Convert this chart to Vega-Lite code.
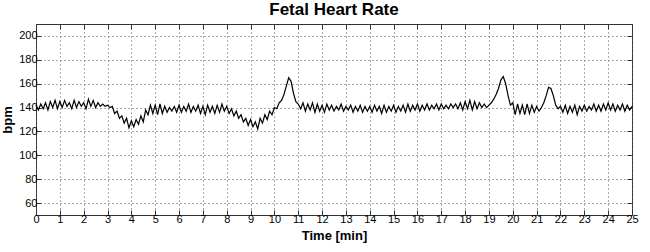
{
  "$schema": "https://vega.github.io/schema/vega-lite/v6.json",
  "width": 596,
  "height": 191,
  "autosize": {"type": "none"},
  "padding": {"left": 36, "top": 24, "right": 18, "bottom": 37},
  "background": "white",
  "title": {"text": "Fetal Heart Rate", "font": "Liberation Sans", "fontSize": 17, "fontWeight": "bold", "color": "black", "offset": 5},
  "config": {
    "view": {"stroke": "#333333", "strokeWidth": 1},
    "axis": {
      "labelFont": "Liberation Sans", "labelFontSize": 11, "labelColor": "black",
      "titleFont": "Liberation Sans", "titleFontSize": 13, "titleFontWeight": "bold", "titleColor": "black",
      "tickColor": "#333333", "tickSize": -5, "domain": false,
      "gridColor": "#555555", "gridDash": [1, 3], "gridOpacity": 1, "gridWidth": 1
    }
  },
  "data": {"values": [
{"t":0.0,"v":142},{"t":0.1,"v":138},{"t":0.2,"v":143},{"t":0.3,"v":139},{"t":0.4,"v":144},{"t":0.5,"v":138},{"t":0.6,"v":145},{"t":0.7,"v":140},{"t":0.8,"v":146},{"t":0.9,"v":139},
{"t":1.0,"v":145},{"t":1.1,"v":140},{"t":1.2,"v":146},{"t":1.3,"v":141},{"t":1.4,"v":144},{"t":1.5,"v":139},{"t":1.6,"v":146},{"t":1.7,"v":140},{"t":1.8,"v":145},{"t":1.9,"v":141},
{"t":2.0,"v":144},{"t":2.1,"v":139},{"t":2.2,"v":147},{"t":2.3,"v":141},{"t":2.4,"v":146},{"t":2.5,"v":140},{"t":2.6,"v":144},{"t":2.7,"v":141},{"t":2.8,"v":143},{"t":2.9,"v":141},
{"t":3.0,"v":142},{"t":3.1,"v":140},{"t":3.2,"v":141},{"t":3.3,"v":135},{"t":3.4,"v":137},{"t":3.5,"v":131},{"t":3.6,"v":133},{"t":3.7,"v":127},{"t":3.8,"v":131},{"t":3.9,"v":123},
{"t":4.0,"v":129},{"t":4.1,"v":124},{"t":4.2,"v":130},{"t":4.3,"v":126},{"t":4.4,"v":133},{"t":4.5,"v":128},{"t":4.6,"v":138},{"t":4.7,"v":134},{"t":4.8,"v":142},{"t":4.9,"v":135},
{"t":5.0,"v":142},{"t":5.1,"v":134},{"t":5.2,"v":143},{"t":5.3,"v":135},{"t":5.4,"v":141},{"t":5.5,"v":136},{"t":5.6,"v":140},{"t":5.7,"v":137},{"t":5.8,"v":141},{"t":5.9,"v":136},
{"t":6.0,"v":142},{"t":6.1,"v":136},{"t":6.2,"v":141},{"t":6.3,"v":137},{"t":6.4,"v":143},{"t":6.5,"v":136},{"t":6.6,"v":141},{"t":6.7,"v":137},{"t":6.8,"v":142},{"t":6.9,"v":135},
{"t":7.0,"v":141},{"t":7.1,"v":134},{"t":7.2,"v":142},{"t":7.3,"v":136},{"t":7.4,"v":141},{"t":7.5,"v":135},{"t":7.6,"v":142},{"t":7.7,"v":136},{"t":7.8,"v":143},{"t":7.9,"v":137},
{"t":8.0,"v":141},{"t":8.1,"v":135},{"t":8.2,"v":139},{"t":8.3,"v":133},{"t":8.4,"v":137},{"t":8.5,"v":131},{"t":8.6,"v":134},{"t":8.7,"v":128},{"t":8.8,"v":131},{"t":8.9,"v":125},
{"t":9.0,"v":130},{"t":9.1,"v":124},{"t":9.2,"v":128},{"t":9.3,"v":122},{"t":9.4,"v":131},{"t":9.5,"v":127},{"t":9.6,"v":134},{"t":9.7,"v":130},{"t":9.8,"v":137},{"t":9.9,"v":134},
{"t":10.0,"v":140},{"t":10.1,"v":139},{"t":10.2,"v":144},{"t":10.3,"v":146},{"t":10.4,"v":151},{"t":10.5,"v":158},{"t":10.6,"v":165},{"t":10.7,"v":162},{"t":10.8,"v":152},{"t":10.9,"v":145},
{"t":11.0,"v":143},{"t":11.1,"v":139},{"t":11.2,"v":144},{"t":11.3,"v":137},{"t":11.4,"v":143},{"t":11.5,"v":138},{"t":11.6,"v":144},{"t":11.7,"v":136},{"t":11.8,"v":143},{"t":11.9,"v":137},
{"t":12.0,"v":142},{"t":12.1,"v":136},{"t":12.2,"v":143},{"t":12.3,"v":138},{"t":12.4,"v":142},{"t":12.5,"v":137},{"t":12.6,"v":141},{"t":12.7,"v":138},{"t":12.8,"v":143},{"t":12.9,"v":137},
{"t":13.0,"v":141},{"t":13.1,"v":138},{"t":13.2,"v":142},{"t":13.3,"v":136},{"t":13.4,"v":141},{"t":13.5,"v":137},{"t":13.6,"v":142},{"t":13.7,"v":136},{"t":13.8,"v":141},{"t":13.9,"v":137},
{"t":14.0,"v":141},{"t":14.1,"v":136},{"t":14.2,"v":142},{"t":14.3,"v":137},{"t":14.4,"v":141},{"t":14.5,"v":135},{"t":14.6,"v":142},{"t":14.7,"v":136},{"t":14.8,"v":141},{"t":14.9,"v":137},
{"t":15.0,"v":142},{"t":15.1,"v":136},{"t":15.2,"v":141},{"t":15.3,"v":137},{"t":15.4,"v":142},{"t":15.5,"v":136},{"t":15.6,"v":143},{"t":15.7,"v":137},{"t":15.8,"v":142},{"t":15.9,"v":138},
{"t":16.0,"v":143},{"t":16.1,"v":137},{"t":16.2,"v":142},{"t":16.3,"v":138},{"t":16.4,"v":143},{"t":16.5,"v":138},{"t":16.6,"v":142},{"t":16.7,"v":139},{"t":16.8,"v":143},{"t":16.9,"v":138},
{"t":17.0,"v":143},{"t":17.1,"v":139},{"t":17.2,"v":142},{"t":17.3,"v":139},{"t":17.4,"v":143},{"t":17.5,"v":140},{"t":17.6,"v":143},{"t":17.7,"v":139},{"t":17.8,"v":144},{"t":17.9,"v":138},
{"t":18.0,"v":145},{"t":18.1,"v":139},{"t":18.2,"v":146},{"t":18.3,"v":138},{"t":18.4,"v":145},{"t":18.5,"v":139},{"t":18.6,"v":144},{"t":18.7,"v":140},{"t":18.8,"v":143},{"t":18.9,"v":140},
{"t":19.0,"v":142},{"t":19.1,"v":144},{"t":19.2,"v":147},{"t":19.3,"v":151},{"t":19.4,"v":156},{"t":19.5,"v":163},{"t":19.6,"v":166},{"t":19.7,"v":160},{"t":19.8,"v":150},{"t":19.9,"v":142},
{"t":20.0,"v":144},{"t":20.1,"v":134},{"t":20.2,"v":143},{"t":20.3,"v":135},{"t":20.4,"v":142},{"t":20.5,"v":134},{"t":20.6,"v":143},{"t":20.7,"v":135},{"t":20.8,"v":142},{"t":20.9,"v":136},
{"t":21.0,"v":141},{"t":21.1,"v":137},{"t":21.2,"v":140},{"t":21.3,"v":144},{"t":21.4,"v":150},{"t":21.5,"v":157},{"t":21.6,"v":156},{"t":21.7,"v":150},{"t":21.8,"v":142},{"t":21.9,"v":139},
{"t":22.0,"v":141},{"t":22.1,"v":136},{"t":22.2,"v":142},{"t":22.3,"v":135},{"t":22.4,"v":141},{"t":22.5,"v":136},{"t":22.6,"v":142},{"t":22.7,"v":134},{"t":22.8,"v":141},{"t":22.9,"v":137},
{"t":23.0,"v":142},{"t":23.1,"v":137},{"t":23.2,"v":141},{"t":23.3,"v":138},{"t":23.4,"v":143},{"t":23.5,"v":137},{"t":23.6,"v":142},{"t":23.7,"v":137},{"t":23.8,"v":143},{"t":23.9,"v":138},
{"t":24.0,"v":144},{"t":24.1,"v":138},{"t":24.2,"v":143},{"t":24.3,"v":137},{"t":24.4,"v":142},{"t":24.5,"v":138},{"t":24.6,"v":143},{"t":24.7,"v":137},{"t":24.8,"v":142},{"t":24.9,"v":138},
{"t":25.0,"v":141}
  ]},
  "layer": [
    {
      "mark": {"type": "line", "color": "black", "strokeWidth": 1.2},
      "encoding": {
        "x": {"field": "t", "type": "quantitative", "scale": {"domain": [0, 25], "nice": false},
              "axis": {"title": "Time [min]", "orient": "bottom", "values": [0,1,2,3,4,5,6,7,8,9,10,11,12,13,14,15,16,17,18,19,20,21,22,23,24,25], "grid": true, "labelPadding": 3, "titlePadding": 5, "labelFlush": false, "labelOverlap": false}},
        "y": {"field": "v", "type": "quantitative", "scale": {"domain": [50, 210], "nice": false, "zero": false},
              "axis": {"title": "bpm", "orient": "left", "values": [60,80,100,120,140,160,180,200], "grid": true, "labelPadding": 4, "titlePadding": 4}}
      }
    },
    {
      "mark": {"type": "line", "opacity": 0},
      "encoding": {
        "x": {"field": "t", "type": "quantitative",
              "axis": {"title": null, "orient": "top", "values": [0,1,2,3,4,5,6,7,8,9,10,11,12,13,14,15,16,17,18,19,20,21,22,23,24,25], "grid": false, "labels": false}},
        "y": {"field": "v", "type": "quantitative",
              "axis": {"title": null, "orient": "right", "values": [60,80,100,120,140,160,180,200], "grid": false, "labels": false}}
      }
    }
  ],
  "resolve": {"axis": {"x": "independent", "y": "independent"}}
}
